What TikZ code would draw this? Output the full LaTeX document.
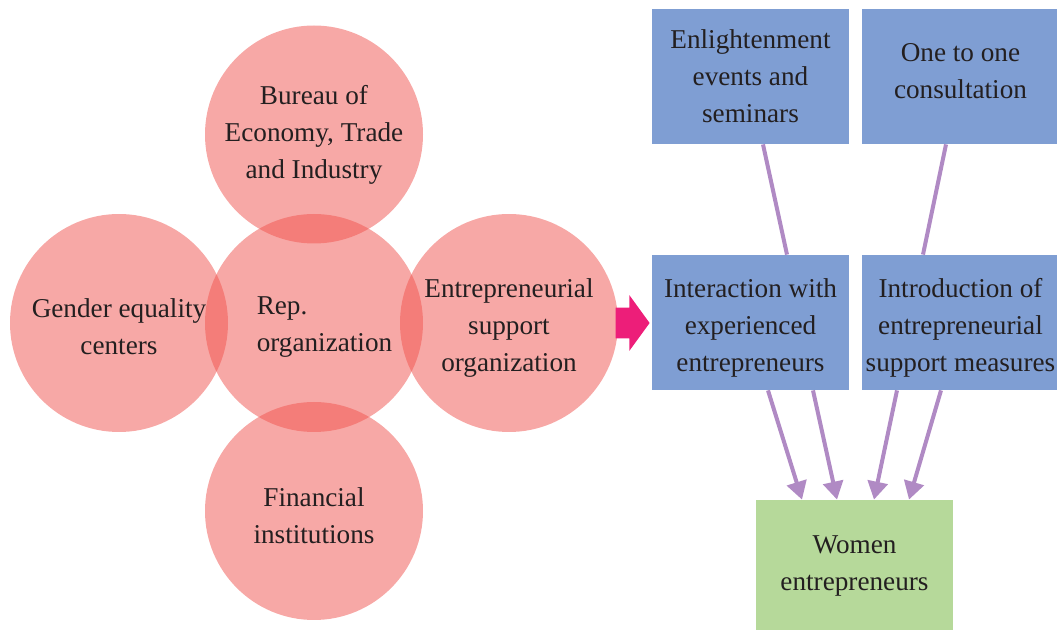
\documentclass[tikz,border=0pt]{standalone}
\usepackage{fontspec}
\setmainfont{Liberation Serif}
\usetikzlibrary{arrows.meta,shapes.arrows}
\definecolor{blobpink}{RGB}{240,82,77}
\definecolor{boxblue}{RGB}{127,158,211}
\definecolor{boxgreen}{RGB}{182,217,154}
\definecolor{linkpurple}{RGB}{176,138,196}
\definecolor{pointerpink}{RGB}{237,30,121}
\definecolor{inkdark}{RGB}{35,31,32}
\tikzset{
  blob/.style={circle, fill=blobpink, fill opacity=0.5, text opacity=1, minimum size=109pt, inner sep=0pt, align=center, text=inkdark},
  bluebox/.style={rectangle, fill=boxblue, minimum width=98.5pt, minimum height=67.5pt, inner sep=0pt, align=center, text=inkdark},
  greenbox/.style={rectangle, fill=boxgreen, minimum width=98.5pt, minimum height=66pt, inner sep=0pt, align=center, text=inkdark},
  link/.style={linkpurple, line width=2pt},
  linkarrow/.style={link, -{Triangle[length=9pt,width=10pt]}}
}
\begin{document}
\begin{tikzpicture}[x=0.5pt, y=-0.5pt, font=\fontsize{13.6}{18.5}\selectfont]
	\useasboundingbox (0, 0) rectangle (1057, 630);
	% circles
	\node [blob] at (314, 323) (rep) {};
	\node [blob] at (314, 134.5) (bureau) {Bureau of\\Economy, Trade\\and Industry};
	\node [blob, text height=31.8pt] at (119, 323) (gender) {Gender equality\\centers};
	\node [blob, text height=51pt] at (509, 323) (support) {Entrepreneurial\\support\\organization};
	\node [blob, text height=32.3pt] at (314, 511) (finance) {Financial\\institutions};
	\node [align=left, text=inkdark, inner sep=0pt] at (324.5, 327) (repText) {Rep.\\organization};
	
	\node [single arrow, fill=pointerpink, minimum height=17pt, minimum width=27.5pt, single arrow head extend=6.25pt, single arrow tip angle=108, inner xsep=0pt, inner ysep=7.5pt] at (627, 323) (pointer) {};
	
	% boxes
	\node [bluebox] at (750.5, 76.5) (enlight) {Enlightenment\\events and\\seminars};
	\node [bluebox, text depth=5.5pt] at (960.5, 76.5) (consult) {One to one\\consultation};
	\node [bluebox, text height=51.7pt] at (750.5, 322.5) (interact) {Interaction with\\experienced\\entrepreneurs};
	\node [bluebox, text height=51.7pt] at (960.5, 322.5) (intro) {Introduction of\\entrepreneurial\\support measures};
	\node [greenbox] at (854.5, 566) (women) {Women\\entrepreneurs};
	
	\draw [link] ([xshift=6.25pt]enlight.south) -- ([xshift=18.25pt]interact.north);
	\draw [link] ([xshift=-7.25pt]consult.south) -- ([xshift=-18.75pt]intro.north);
	\draw [linkarrow] ([xshift=8.75pt]interact.south) -- ([xshift=-26.25pt]women.north);
	\draw [linkarrow] ([xshift=31.25pt]interact.south) -- ([xshift=-8.75pt]women.north);
	\draw [linkarrow] ([xshift=-31.75pt]intro.south) -- ([xshift=9.75pt]women.north);
	\draw [linkarrow] ([xshift=-9.75pt]intro.south) -- ([xshift=27.25pt]women.north);
\end{tikzpicture}
\end{document}
